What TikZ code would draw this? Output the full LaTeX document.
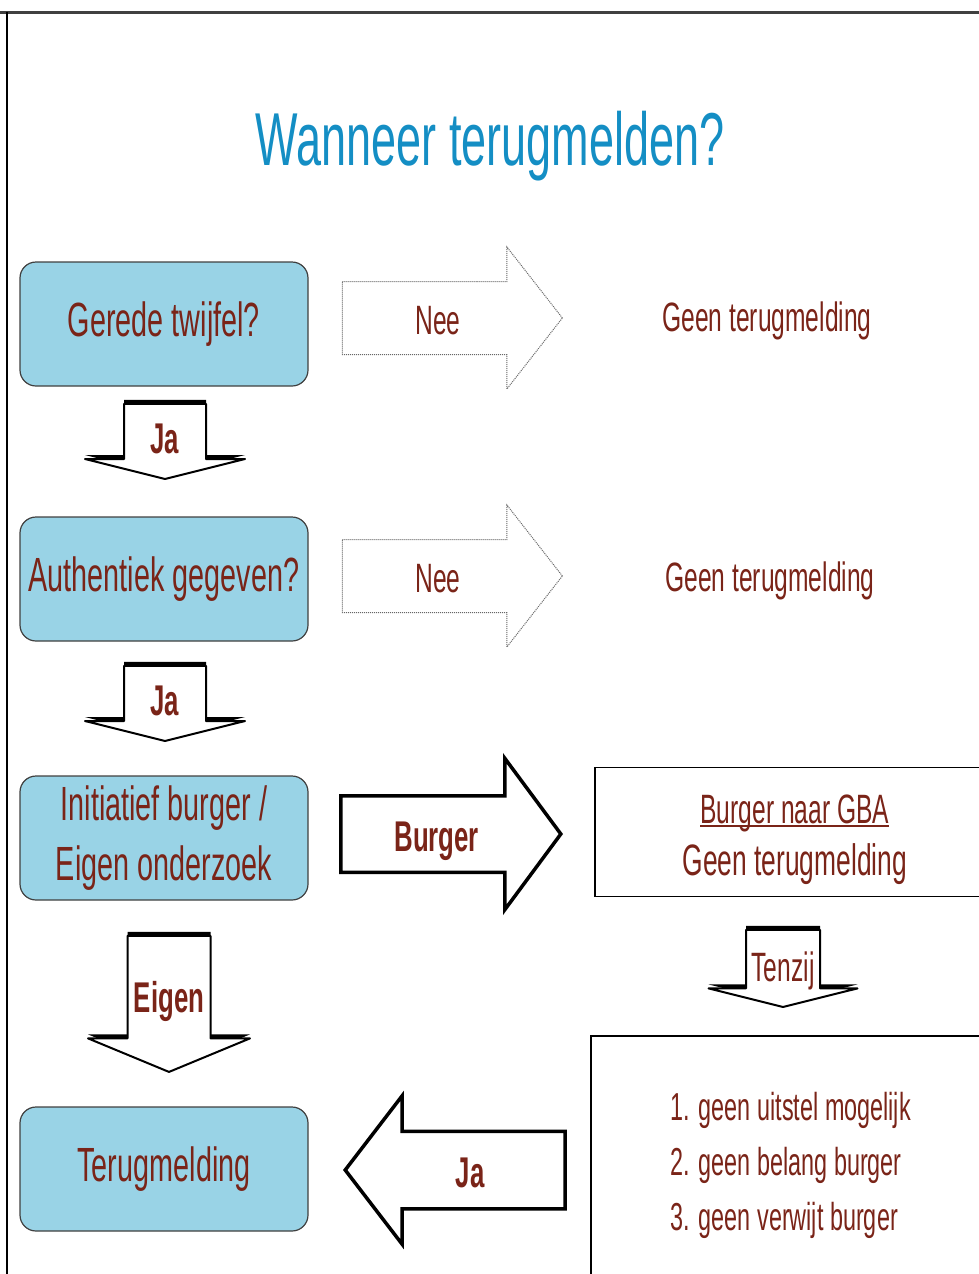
\documentclass[tikz,border=0pt]{standalone}
\usepackage{fontspec}
\setmainfont{Liberation Sans}[FakeStretch=0.6]
\newcommand{\dikonder}[1]{\setbox0\hbox{#1}\rlap{\copy0}\rule[-4pt]{\wd0}{2.5pt}}
\usetikzlibrary{shapes.arrows,shadows}
\definecolor{boxblue}{RGB}{153,211,230}
\definecolor{textred}{RGB}{122,36,24}
\definecolor{titleblue}{RGB}{20,142,196}

\begin{document}
\begin{tikzpicture}[x=1pt, y=-1pt,
      every node/.append style={text=textred, align=center},
      question/.style={draw=black!75, line width=1.2pt, fill=boxblue, rounded corners=16pt,
        minimum width=288pt, minimum height=124pt, inner sep=0pt,
        font=\fontsize{48}{60}\selectfont},
      answer/.style={font=\fontsize{41}{41}\selectfont},
      textbox/.style={draw=black, line width=1.5pt, minimum width=400pt},
      dotarrow/.style={single arrow, single arrow head indent=0pt, anchor=tip,
        minimum height=220pt, inner xsep=0pt, text height=36pt, text depth=3pt,
        draw=black!60, densely dotted, line width=1pt, fill=white,
        font=\fontsize{41}{41}\selectfont},
      boldarrow/.style={single arrow, single arrow head indent=0pt, anchor=tip,
        minimum height=220pt, inner xsep=0pt, text height=37pt, text depth=2pt,
        draw=black, line width=3.5pt, fill=white,
        font=\bfseries\fontsize{43}{43}\selectfont},
      downarrow/.style={single arrow, shape border rotate=270, single arrow head indent=0pt,
        anchor=tip, inner xsep=0pt, inner ysep=2pt, text height=37pt, text depth=2pt,
        single arrow head extend=39pt, draw=black, line width=2pt, line join=round, fill=white,
        drop shadow={shadow xshift=0pt, shadow yshift=4pt, fill=black, opacity=1},
        font=\bfseries\fontsize{43}{43}\selectfont}]
    \useasboundingbox (0,0) rectangle (979,1274);
    \clip (0,0) rectangle (979,1274);
    \draw[line width=3pt, black!75] (0,12) -- (979,12);
    \draw[line width=1.5pt] (7,12) -- (7,1274);

    \node[text=titleblue, font=\fontsize{75}{75}\selectfont, anchor=base] (title) at (490,165) {Wanneer terugmelden?};

    \node[question] (twijfel) at (164,324) {Gerede twijfel?};
    \node[question] (authentiek) at (164,579) {Authentiek gegeven?};
    \node[question] (initiatief) at (164,838) {Initiatief burger /\\Eigen onderzoek};
    \node[question] (terugmelding) at (164,1169) {Terugmelding};

    \node[answer] (geen1) at (767,321) {Geen terugmelding};
    \node[answer] (geen2) at (770,581) {Geen terugmelding};
    \node[textbox, anchor=west, minimum height=129pt, font=\fontsize{44}{56}\selectfont] (gba) at (594,832) {\rule{0pt}{40pt}{\fontsize{41}{41}\selectfont\raisebox{-4pt}{\dikonder{Burger naar GBA}}}\\Geen terugmelding};
    \node[textbox, anchor=north west, minimum height=260pt, align=left, font=\fontsize{39}{55}\selectfont] (uitzondering) at (590,1035) {1. geen uitstel mogelijk\\2. geen belang burger\\3. geen verwijt burger};

    \node[dotarrow, single arrow head extend=34.5pt, single arrow tip angle=104, inner ysep=16.5pt] (nee1) at (563,318) {Nee};
    \node[dotarrow, single arrow head extend=34.5pt, single arrow tip angle=104, inner ysep=16.5pt] (nee2) at (563,576) {Nee};
    \node[boldarrow, single arrow head extend=37.5pt, single arrow tip angle=107, inner ysep=17pt] (burger) at (563,834) {Burger};
    \node[boldarrow, shape border rotate=180, single arrow head extend=35.5pt, single arrow tip angle=105, inner ysep=17.5pt] (jaterug) at (343,1170) {Ja};

    \node[downarrow, minimum height=75pt, text width=80pt, single arrow tip angle=152] (ja1) at (165,480) {Ja};
    \node[downarrow, minimum height=75pt, text width=80pt, single arrow tip angle=152] (ja2) at (165,742) {Ja};
    \node[downarrow, minimum height=136pt, text width=81pt, single arrow tip angle=135, single arrow head extend=39.5pt] (eigen) at (169,1073) {Eigen};
    \node[downarrow, minimum height=77pt, text width=72pt, single arrow tip angle=152, single arrow head extend=37.5pt, font=\fontsize{41}{41}\selectfont] (tenzij) at (783,1008) {Tenzij};
\end{tikzpicture}
\end{document}
